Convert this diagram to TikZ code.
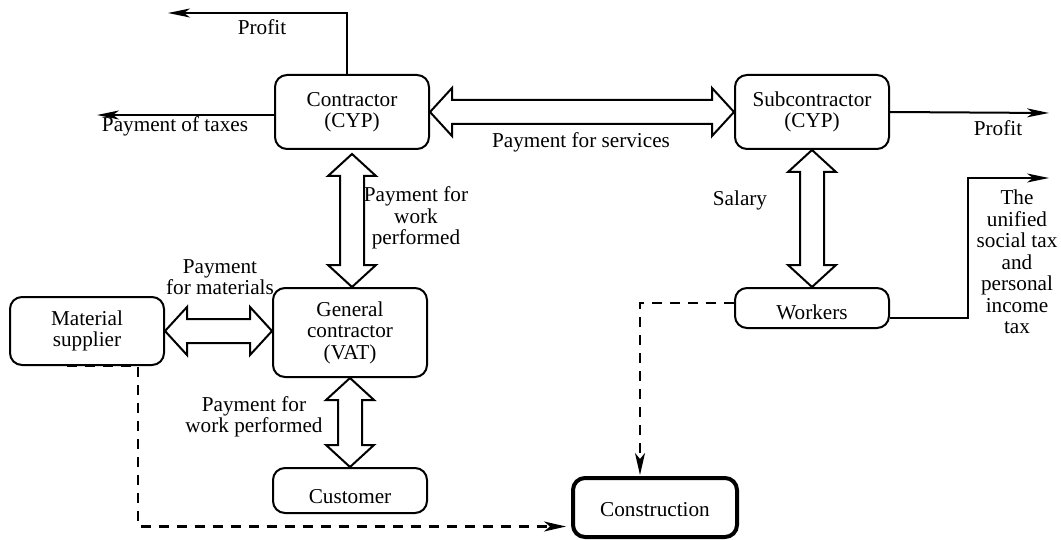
\documentclass[tikz,border=0pt]{standalone}
\usepackage{fontspec}
\setmainfont{Liberation Serif}
\usetikzlibrary{arrows.meta,calc}
\newcommand{\HDblArrow}[2]{\path[dbl] let \p1=(#1), \p2=(#2) in
  (\x1,\y1) -- (\x1+11pt,\y1+12pt) -- (\x1+11pt,\y1+6pt) -- (\x2-11pt,\y1+6pt) -- (\x2-11pt,\y1+12pt)
  -- (\x2,\y1) -- (\x2-11pt,\y1-12pt) -- (\x2-11pt,\y1-6pt) -- (\x1+11pt,\y1-6pt) -- (\x1+11pt,\y1-12pt) -- cycle;}
\newcommand{\VDblArrow}[2]{\path[dbl] let \p1=(#1), \p2=(#2) in
  (\x1,\y1) -- (\x1+12pt,\y1-11pt) -- (\x1+6pt,\y1-11pt) -- (\x1+6pt,\y2+11pt) -- (\x1+12pt,\y2+11pt)
  -- (\x1,\y2) -- (\x1-12pt,\y2+11pt) -- (\x1-6pt,\y2+11pt) -- (\x1-6pt,\y1-11pt) -- (\x1-12pt,\y1-11pt) -- cycle;}
\begin{document}
\begin{tikzpicture}[x=0.5pt,y=-0.5pt,
  every node/.style={font=\fontsize{10.6pt}{10.75pt}\selectfont, align=center, inner sep=0pt},
  box/.style={draw, line width=1pt, rounded corners=6pt, minimum width=77pt},
  flow/.style={line width=1pt, -{Stealth[length=11pt,width=4.5pt,inset=3pt]}},
  dsh/.style={line width=1.1pt, dash pattern=on 5pt off 4pt, -{Stealth[length=11pt,width=5pt,inset=3pt]}},
  dbl/.style={draw, line width=1pt, fill=white, line join=miter}]
\useasboundingbox (0,0) rectangle (1061,540);

% boxes
\node[box, minimum height=37pt] (contr) at (352,112) {Contractor\\(CYP)};
\node[box, minimum height=37pt] (sub) at (812,112) {Subcontractor\\(CYP)};
\node[box, minimum height=44.5pt] (gc) at (350,332.5) {General\\contractor\\(VAT)};
\node[box, minimum height=22.5pt, text height=13pt, text depth=0pt] (cust) at (350,490.5) {Customer};
\node[box, minimum height=34pt] (mat) at (87,331) {Material\\supplier};
\node[box, minimum height=20pt, text height=11pt, text depth=0pt] (wk) at (812,308) {Workers};
\node[box, line width=2pt, minimum width=82pt, minimum height=29.5pt, text height=9pt, text depth=0pt] (constr) at (655,507.5) {Construction};

% free ends
\coordinate (profitL) at (168,13);
\coordinate (taxL) at (97,115);
\coordinate (profitR) at (1049,113);
\coordinate (taxcorner) at (968,178);
\coordinate (taxR) at (1049,178);

% solid flows
\draw[flow] ([xshift=-2.5pt]contr.north) |- (profitL);
\draw[flow] ([yshift=-1.5pt]contr.west) -- (taxL);
\draw[flow] (sub.east) -- (profitR);
\draw[flow] ([yshift=-5pt]wk.east) -| (taxcorner) -- (taxR);

% double arrows
\HDblArrow{contr.east}{sub.west}
\VDblArrow{[yshift=-2pt]contr.south}{gc.north}
\HDblArrow{mat.east}{gc.west}
\VDblArrow{gc.south}{cust.north}
\VDblArrow{sub.south}{wk.north}

% dashed
\draw[dsh, shorten >=2.5pt] ([xshift=-10pt]mat.south) -- ([xshift=25.5pt]mat.south) |- ([yshift=-9.5pt]constr.west);
\draw[dsh, shorten >=0.5pt] ([yshift=2.5pt]wk.west) -| ([xshift=-7.5pt]constr.north);

% labels
\node (lProfitT) at (262,27) {Profit};
\node (lTaxes) at (175,126) {Payment of taxes};
\node (lServ) at (581,142) {Payment for services};
\node (lProfitR) at (998,128) {Profit};
\node (lSalary) at (740,200) {Salary};
\node (lWork1) at (416,218) {Payment for\\work\\performed};
\node (lMat) at (220,277) {Payment\\for materials};
\node (lWork2) at (254,417) {Payment for\\work performed};
\node (lTax) at (1017,262) {The\\unified\\social tax\\and\\personal\\income\\tax};
\end{tikzpicture}
\end{document}
